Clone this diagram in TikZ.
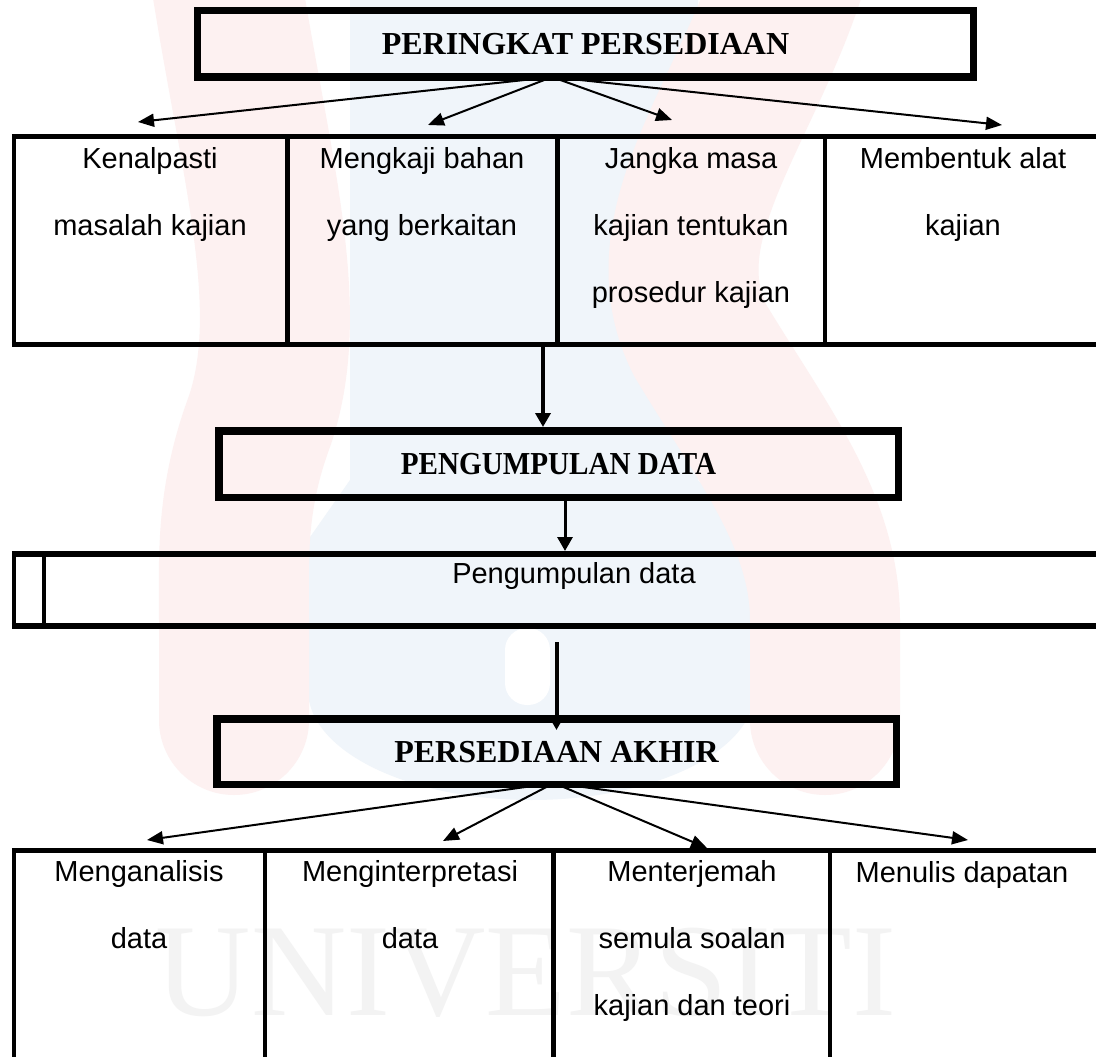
\documentclass[tikz,border=0pt]{standalone}
\usepackage{fontspec}
\setmainfont{Liberation Serif}
\newfontfamily\arialf{Liberation Sans}
\usetikzlibrary{arrows.meta}
\definecolor{wmpink}{RGB}{253,241,241}
\definecolor{wmblue}{RGB}{240,245,250}
\definecolor{wmgray}{RGB}{243,243,243}
\begin{document}
\begin{tikzpicture}[x=1pt,y=-1pt,
  hbox/.style={draw=black, line width=7.5pt, inner sep=0pt, text height=21pt, text depth=0pt,
               font=\bfseries\fontsize{32}{36}\selectfont},
  celltext/.style={anchor=base, align=center, inner sep=0pt, font=\arialf\fontsize{29}{67}\selectfont},
  tablerule/.style={line width=5pt},
  tablesep/.style={line width=4.5pt},
  fan/.style={line width=2pt, -{Triangle[length=16pt,width=13pt]}},
  vdown/.style={line width=4pt, -{Triangle[length=14pt,width=15pt]}}]
\useasboundingbox (0,0) rectangle (1096,1057);
\fill[white] (0,0) rectangle (1096,1057);

% --- watermark ---
\fill[wmblue] (350,-60) -- (350,480) -- (308,540) -- (308,690)
  arc[start angle=180,end angle=0,x radius=223.5,y radius=110] -- (755,540) -- (698,480) -- (698,-60) -- cycle;
\fill[white, rounded corners=22pt] (505,628) rectangle (550,705);
\draw[wmpink, line width=150pt, line cap=round]
  (220,-60) .. controls (250,150) and (300,300) .. (260,420)
  .. controls (230,500) and (234,560) .. (234,620) -- (234,720);
\draw[wmpink, line width=150pt, line cap=round]
  (800,-60) .. controls (760,100) and (640,220) .. (700,340)
  .. controls (760,440) and (825,520) .. (825,620) -- (825,720);
\node[wmgray, anchor=base, inner sep=0pt, font=\fontsize{132}{132}\selectfont] (wm) at (526,1015) {UNIVERSITI};

% --- heading boxes ---
\node[hbox, minimum width=776pt, minimum height=66.5pt] (prep) at (585.5,44) {PERINGKAT PERSEDIAAN};
\node[hbox, minimum width=679.5pt, minimum height=66.5pt] (kumpul) at (558.5,464) {\scalebox{0.91}[1]{PENGUMPULAN DATA}};
\node[hbox, minimum width=679.5pt, minimum height=65.5pt] (akhir) at (556.5,751.5) {PERSEDIAAN AKHIR};

% --- top table (node base = baseline of last line) ---
\draw[tablerule] (11.75,136.5) -- (1110,136.5);
\draw[tablerule] (11.75,344) -- (1110,344);
\foreach \x in {14,287.5,557.5,825} \draw[tablesep] (\x,136.5) -- (\x,344);
\node[celltext] (c1) at (150,235) {Kenalpasti\\masalah kajian};
\node[celltext] (c2) at (422,235) {Mengkaji bahan\\yang berkaitan};
\node[celltext] (c3) at (691,302) {Jangka masa\\kajian tentukan\\prosedur kajian};
\node[celltext] (c4) at (963,235) {Membentuk alat\\kajian};

% --- pengumpulan data row ---
\draw[line width=6pt] (11.75,554) -- (1110,554);
\draw[line width=6pt] (11.75,626) -- (1110,626);
\draw[tablesep] (14,554) -- (14,626);
\draw[tablesep] (44,554) -- (44,626);
\node[celltext] (ptext) at (574,583) {Pengumpulan data};

% --- bottom table ---
\draw[tablerule] (11.75,850.5) -- (1110,850.5);
\foreach \x in {14,265,553.5,830} \draw[tablesep] (\x,850.5) -- (\x,1070);
\node[celltext] (d1) at (139,948) {Menganalisis\\data};
\node[celltext] (d2) at (410,948) {Menginterpretasi\\data};
\node[celltext] (d3) at (692,1015) {Menterjemah\\semula soalan\\kajian dan teori};
\node[celltext] (d4) at (962,882) {Menulis dapatan};

% --- top fan ---
\coordinate (pf) at (552,77);
\coordinate (ta1) at (138,122);
\coordinate (ta2) at (428,125);
\coordinate (ta3) at (672,120);
\coordinate (ta4) at (1002,125);
\foreach \t in {ta1,ta2,ta3,ta4} \draw[fan] (pf) -- (\t);

% --- vertical arrows ---
\coordinate (v1s) at (543,346);
\draw[vdown] (v1s) -- (v1s |- kumpul.north);
\coordinate (v2x) at (565,551);
\draw[vdown, line width=3pt] (kumpul.south -| v2x) -- (v2x);
\coordinate (v3s) at (556.5,642);
\coordinate (v3e) at (556.5,730);
\draw[vdown] (v3s) -- (v3e);

% --- bottom fan ---
\coordinate (pa) at (554,783);
\coordinate (tb1) at (147,840);
\coordinate (tb2) at (443,841);
\coordinate (tb3) at (707,848);
\coordinate (tb4) at (968,840);
\foreach \t in {tb1,tb2,tb3,tb4} \draw[fan] (pa) -- (\t);
\end{tikzpicture}
\end{document}
